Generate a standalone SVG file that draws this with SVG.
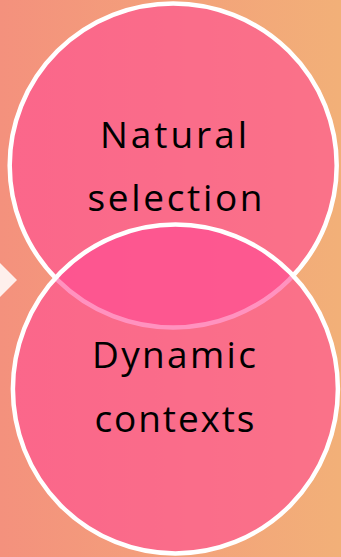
<svg xmlns="http://www.w3.org/2000/svg" width="341" height="557" viewBox="0 0 341 557">
  <defs>
    <linearGradient id="bg" x1="0" y1="0" x2="1" y2="0">
      <stop offset="0" stop-color="#F4917D"/>
      <stop offset="1" stop-color="#F2B078"/>
    </linearGradient>
    <style>
      .circ { fill: #FF4A94; fill-opacity: 0.6; stroke: #FFFFFF; stroke-width: 4.5; }
      .lbl { font-family: "Open Sans", "Noto Sans", "Liberation Sans", sans-serif; font-size: 37px; fill: #000000; }
    </style>
  </defs>
  <rect x="0" y="0" width="341" height="557" fill="url(#bg)"/>
  <g id="arrow">
    <polygon points="0,263 17,280 0,297" fill="#FFFFFF" fill-opacity="0.85"/>
  </g>
  <g id="node-natural-selection">
    <ellipse class="circ" cx="173.2" cy="165.5" rx="163.5" ry="162"/>
    <text class="lbl" x="100" y="148" textLength="147" lengthAdjust="spacing">Natural</text>
    <text class="lbl" x="87.5" y="211" textLength="175" lengthAdjust="spacing">selection</text>
  </g>
  <g id="node-dynamic-contexts">
    <ellipse class="circ" cx="175.4" cy="389" rx="162.5" ry="164.5"/>
    <text class="lbl" x="92" y="368" textLength="164" lengthAdjust="spacing">Dynamic</text>
    <text class="lbl" x="94.5" y="431.5" textLength="160" lengthAdjust="spacing">contexts</text>
  </g>
  <g id="connectors"></g>
</svg>
